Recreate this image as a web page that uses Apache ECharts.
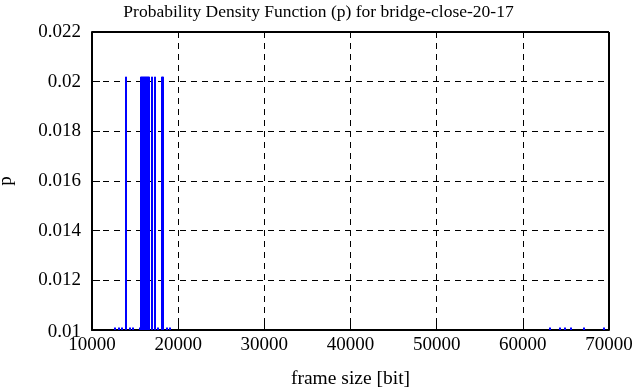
<!DOCTYPE html>
<html>
<head>
<meta charset="utf-8">
<script src="https://cdn.jsdelivr.net/npm/echarts@6/dist/echarts.min.js"></script>
<style>
html,body{margin:0;padding:0;background:#fff;}
#chart{width:637px;height:387px;}
</style>
</head>
<body>
<div id="chart"></div>
<script>
// frame sizes [bit] and probability values
var frameSizes = [12669, 13133, 13481, 13946, 14410, 14758, 15570, 15687, 15803, 15919, 16035, 16151, 16267, 16383, 16499, 16615, 16963, 17311, 17659, 18124, 18240, 18704, 19052, 63153, 64313, 64893, 65589, 67098, 69419];
var probs      = [0.0101, 0.0101, 0.0101, 0.0202, 0.0101, 0.0101, 0.0101, 0.0202, 0.0202, 0.0202, 0.0202, 0.0202, 0.0202, 0.0202, 0.0202, 0.0202, 0.0202, 0.0202, 0.0101, 0.0202, 0.0202, 0.0101, 0.0101, 0.0101, 0.0101, 0.0101, 0.0101, 0.0101, 0.0101];
var xTicks = [10000, 20000, 30000, 40000, 50000, 60000, 70000];
var yTicks = [0.01, 0.012, 0.014, 0.016, 0.018, 0.02, 0.022];
var titleText = 'Probability Density Function (p) for bridge-close-20-17';

var data = frameSizes.map(function (x, i) { return [x, probs[i]]; });
var FONT = 'Liberation Serif';
var chart = echarts.init(document.getElementById('chart'), null, {renderer: 'canvas'});
chart.setOption({
  animation: false,
  backgroundColor: '#ffffff',
  title: {
    text: titleText, left: 'center', top: -2,
    textStyle: {fontFamily: FONT, fontWeight: 'normal', fontSize: 17.5, color: '#000'}
  },
  grid: {left: 92, right: 28, top: 32, bottom: 57, containLabel: false, outerBoundsMode: 'none'},
  xAxis: {
    type: 'value', min: xTicks[0], max: xTicks[xTicks.length - 1], interval: 10000,
    name: 'frame size [bit]', nameLocation: 'middle', nameGap: 39,
    nameTextStyle: {fontFamily: FONT, fontSize: 19.5, color: '#000'},
    axisLine: {show: true, onZero: false, lineStyle: {color: '#000', width: 2}},
    axisTick: {show: true, inside: true, length: 8, lineStyle: {color: '#000', width: 1}},
    axisLabel: {margin: 6, fontFamily: FONT, fontSize: 19, color: '#000',
      formatter: function (v) { return String(v); }},
    splitLine: {show: true, lineStyle: {color: '#000', width: 1, type: [6, 5]}}
  },
  yAxis: {
    type: 'value', min: yTicks[0], max: yTicks[yTicks.length - 1], interval: 0.002,
    name: 'p', nameLocation: 'middle', nameGap: 76,
    nameTextStyle: {fontFamily: FONT, fontSize: 19, color: '#000'},
    axisLine: {show: true, onZero: false, lineStyle: {color: '#000', width: 2}},
    axisTick: {show: true, inside: true, length: 8, lineStyle: {color: '#000', width: 1}},
    axisLabel: {margin: 11, fontFamily: FONT, fontSize: 19, color: '#000',
      formatter: function (v) {
        var s = String(parseFloat(v.toFixed(4)));
        return v <= yTicks[0] + 1e-9 ? '{low|' + s + '}' : s;
      },
      rich: {low: {fontFamily: FONT, fontSize: 19, color: '#000', padding: [5, 0, 0, 0]}}
    },
    splitLine: {show: true, lineStyle: {color: '#000', width: 1, type: [6, 5]}}
  },
  series: [
    {
      type: 'bar', data: data, barWidth: 2, clip: true,
      itemStyle: {color: '#0000ff'}
    },
    {
      // frame of the plot (top and right borders)
      type: 'line', data: [], silent: true,
      markLine: {
        symbol: 'none', silent: true, label: {show: false},
        lineStyle: {color: '#000', width: 2, type: 'solid'},
        data: [
          [{coord: [xTicks[0], yTicks[yTicks.length - 1]]}, {coord: [xTicks[xTicks.length - 1], yTicks[yTicks.length - 1]]}],
          [{coord: [xTicks[xTicks.length - 1], yTicks[0]]}, {coord: [xTicks[xTicks.length - 1], yTicks[yTicks.length - 1]]}]
        ]
      }
    }
  ]
});
</script>
</body>
</html>
